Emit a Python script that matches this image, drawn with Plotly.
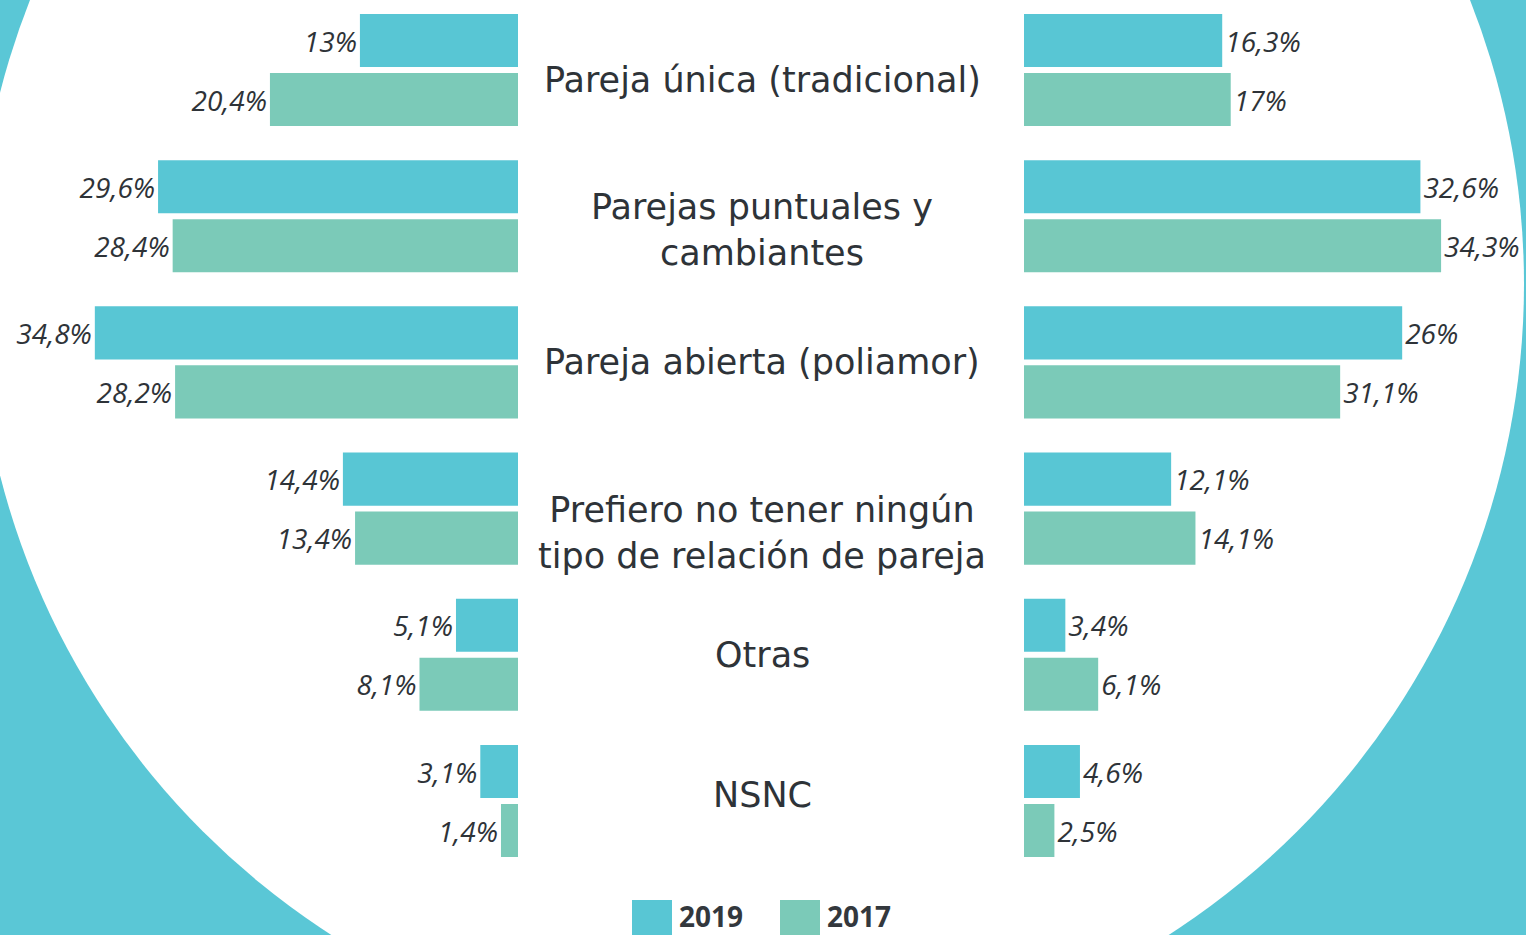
import plotly.graph_objects as go

# ---- data ----
categories = [
    "Pareja única (tradicional)",
    "Parejas puntuales y<br>cambiantes",
    "Pareja abierta (poliamor)",
    "Prefiero no tener ningún<br>tipo de relación de pareja",
    "Otras",
    "NSNC",
]
series_names = ["2019", "2017"]
# bar lengths as drawn in the picture (%)
left_2019 = [13.0, 29.6, 34.8, 14.4, 5.1, 3.1]
left_2017 = [20.4, 28.4, 28.2, 13.4, 8.1, 1.4]
right_2019 = [16.3, 32.6, 31.1, 12.1, 3.4, 4.6]
right_2017 = [17.0, 34.3, 26.0, 14.1, 6.1, 2.5]
# value labels as printed in the picture
left_2019_labels = ["13%", "29,6%", "34,8%", "14,4%", "5,1%", "3,1%"]
left_2017_labels = ["20,4%", "28,4%", "28,2%", "13,4%", "8,1%", "1,4%"]
right_2019_labels = ["16,3%", "32,6%", "26%", "12,1%", "3,4%", "4,6%"]
right_2017_labels = ["17%", "34,3%", "31,1%", "14,1%", "6,1%", "2,5%"]

# ---- style ----
W, H = 1526, 935
CYAN = "#58C6D4"
GREEN = "#7BCAB8"
BG = "#5AC7D6"
TXT = "#2E3338"
VAL_FONT = "Open Sans"
CAT_FONT = "DejaVu Sans"
colors = [CYAN, GREEN]
label_yshift = [-10, -14, 0, -24, 0, 6]  # pixel nudges of the centre labels

y_idx = list(range(len(categories)))

fig = go.Figure()
panels = (
    ("x", [left_2019, left_2017], [left_2019_labels, left_2017_labels]),
    ("x2", [right_2019, right_2017], [right_2019_labels, right_2017_labels]),
)
for axis, series, labels in panels:
    for name, vals, labs, col in zip(series_names, series, labels, colors):
        fig.add_trace(go.Bar(
            y=y_idx, x=vals, orientation="h", name=name, marker_color=col,
            marker_line_width=0, xaxis=axis, yaxis="y",
            text=labs, textposition="outside", cliponaxis=False,
            textfont=dict(family=VAL_FONT, size=28, color=TXT, style="italic"),
            constraintext="none", showlegend=False, hoverinfo="skip",
        ))

PX_PER_PCT = 12.16
left_zero = 518
right_zero = 1024
group_px = 146.2
first_center = 70

hidden = dict(showgrid=False, zeroline=False, showticklabels=False, showline=False, ticks="")
fig.update_layout(
    width=W, height=H,
    margin=dict(l=0, r=0, t=0, b=0),
    paper_bgcolor=BG, plot_bgcolor="rgba(0,0,0,0)",
    barmode="group", bargap=1 - 118 / group_px, bargroupgap=0.10,
    xaxis=dict(domain=[0, left_zero / W], range=[left_zero / PX_PER_PCT, 0], anchor="y", **hidden),
    xaxis2=dict(domain=[right_zero / W, 1], range=[0, (W - right_zero) / PX_PER_PCT], anchor="y", **hidden),
    yaxis=dict(domain=[0, 1],
               range=[-first_center / group_px + H / group_px, -first_center / group_px],
               **hidden),
    showlegend=False,
)

# white circle background
cx, cy, r = 750, 284, 774
fig.add_shape(type="circle", xref="paper", yref="paper", layer="below",
              x0=(cx - r) / W, x1=(cx + r) / W,
              y0=1 - (cy + r) / H, y1=1 - (cy - r) / H,
              fillcolor="white", line_width=0)

# category labels in centre
for i, cat in enumerate(categories):
    fig.add_annotation(x=762 / W, xref="paper", y=i, yref="y", text=cat,
                       showarrow=False, xanchor="center", yanchor="middle",
                       yshift=label_yshift[i],
                       font=dict(family=CAT_FONT, size=35, color=TXT))

# legend
leg = [(632, CYAN, series_names[0]), (780, GREEN, series_names[1])]
for x0, col, name in leg:
    fig.add_shape(type="rect", xref="paper", yref="paper",
                  x0=x0 / W, x1=(x0 + 40) / W, y0=0, y1=1 - 900 / H,
                  fillcolor=col, line_width=0)
    fig.add_annotation(x=(x0 + 45) / W, xref="paper", y=1 - 916 / H, yref="paper",
                       text=f"<b>{name}</b>", showarrow=False, xanchor="left", yanchor="middle",
                       font=dict(family=VAL_FONT, size=28, color="#33383D"))

fig.write_html("out.html",
               config={"displayModeBar": False},
               post_script="document.body.style.margin='0';document.body.style.padding='0';"
                           "document.body.style.overflow='hidden';")
